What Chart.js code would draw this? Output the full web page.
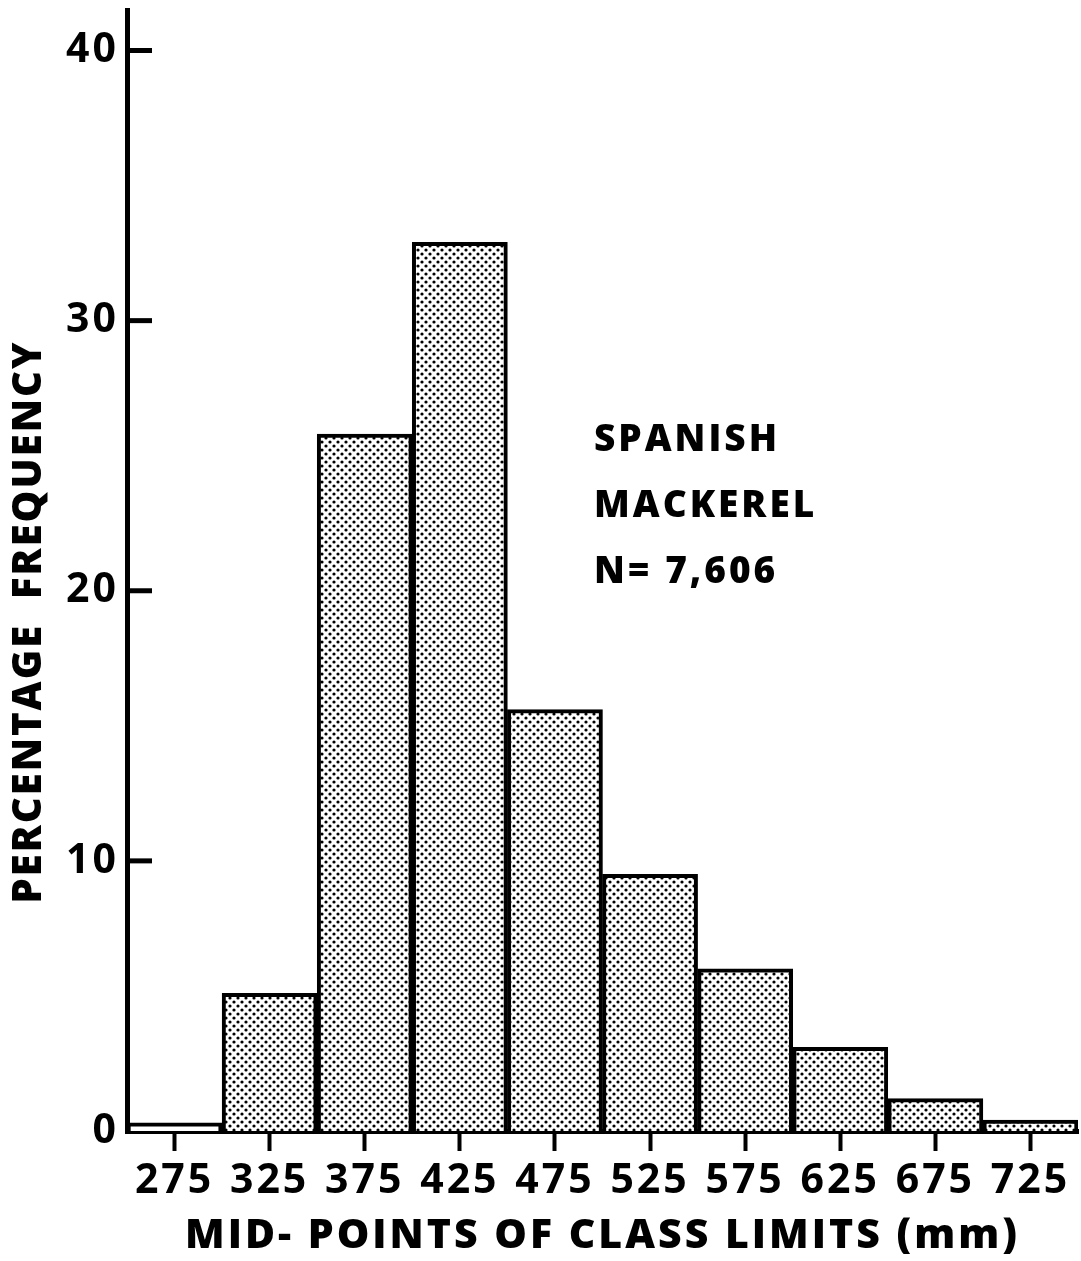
<!DOCTYPE html>
<html>
<head>
<meta charset="utf-8">
<script src="https://cdn.jsdelivr.net/npm/chart.js@4.4.1/dist/chart.umd.min.js"></script>
<style>
  html, body { margin: 0; padding: 0; background: #fff; }
  canvas { display: block; }
</style>
</head>
<body>
<canvas id="chart" width="1081" height="1261"></canvas>
<script>
// class mid-points (mm) and percentage frequency
const midPoints = ['275', '325', '375', '425', '475', '525', '575', '625', '675', '725'];
const percentFreq = [0.3, 5.1, 25.8, 32.9, 15.6, 9.5, 6.0, 3.1, 1.2, 0.4];
const yTickValues = [0, 10, 20, 30, 40];
const noteLines = ['SPANISH', 'MACKEREL', 'N= 7,606'];

const FONT = '"Open Sans", "DejaVu Sans", sans-serif';

// stipple fill like the printed halftone
function dotPattern() {
  const c = document.createElement('canvas');
  c.width = 8;
  c.height = 8;
  const g = c.getContext('2d');
  g.fillStyle = '#fff';
  g.fillRect(0, 0, 8, 8);
  g.fillStyle = '#000';
  [[2, 2], [6, 6]].forEach(([x, y]) => {
    g.beginPath();
    g.arc(x, y, 1.6, 0, Math.PI * 2);
    g.fill();
  });
  return g.createPattern(c, 'repeat');
}

const stipple = dotPattern();
const fills = percentFreq.map((v, i) => (i === 0 ? '#fff' : stipple));

// wider letter spacing for all chart text
const spacing = {
  id: 'spacing',
  beforeDraw(chart) { chart.ctx.letterSpacing = '3px'; },
  afterDraw(chart) { chart.ctx.letterSpacing = '0px'; }
};

// inward y ticks, rotated y title and the text note
const extras = {
  id: 'extras',
  afterDraw(chart) {
    const ctx = chart.ctx;
    const y = chart.scales.y;
    const area = chart.chartArea;
    ctx.save();
    ctx.strokeStyle = '#000';
    ctx.lineWidth = 5;
    yTickValues.forEach((v) => {
      if (v === 0) return;
      const py = y.getPixelForValue(v);
      ctx.beginPath();
      ctx.moveTo(area.left, py);
      ctx.lineTo(area.left + 25, py);
      ctx.stroke();
    });

    ctx.fillStyle = '#000';
    ctx.font = '800 40px ' + FONT;
    ctx.letterSpacing = '2px';
    ctx.textAlign = 'center';
    ctx.textBaseline = 'middle';
    ctx.translate(30, 622);
    ctx.rotate(-Math.PI / 2);
    ctx.fillText('PERCENTAGE  FREQUENCY', 0, 0);
    ctx.restore();

    ctx.save();
    ctx.fillStyle = '#000';
    ctx.font = '800 37px ' + FONT;
    ctx.letterSpacing = '3px';
    ctx.textAlign = 'left';
    ctx.textBaseline = 'alphabetic';
    noteLines.forEach((t, i) => {
      ctx.fillText(t, 594, 451 + i * 66);
    });
    ctx.restore();
  }
};

new Chart(document.getElementById('chart'), {
  type: 'bar',
  data: {
    labels: midPoints,
    datasets: [{
      data: percentFreq,
      backgroundColor: fills,
      borderColor: '#000',
      borderWidth: 4,
      barPercentage: 1,
      categoryPercentage: 1
    }]
  },
  options: {
    responsive: false,
    animation: false,
    devicePixelRatio: 1,
    layout: { padding: { top: 10, right: 3, left: 0, bottom: 0 } },
    plugins: {
      legend: { display: false },
      tooltip: { enabled: false }
    },
    scales: {
      x: {
        border: { display: true, color: '#000', width: 5 },
        grid: {
          display: true,
          drawOnChartArea: false,
          drawTicks: true,
          offset: false,
          tickLength: 20,
          tickWidth: 4,
          tickColor: '#000'
        },
        ticks: {
          color: '#000',
          padding: 6,
          maxRotation: 0,
          font: { family: FONT, size: 41, weight: 'bold' }
        },
        title: {
          display: true,
          text: 'MID- POINTS OF CLASS LIMITS (mm)',
          color: '#000',
          padding: { top: 0, bottom: 0 },
          font: { family: FONT, size: 41, weight: 800 }
        },
        afterFit(scale) { scale.height = 130; }
      },
      y: {
        min: 0,
        max: 41.5,
        border: { display: true, color: '#000', width: 5 },
        grid: { display: false, drawTicks: false },
        ticks: {
          stepSize: 10,
          color: '#000',
          padding: 8,
          font: { family: FONT, size: 41, weight: 'bold' }
        },
        afterBuildTicks(scale) {
          scale.ticks = yTickValues.map((v) => ({ value: v }));
        },
        afterFit(scale) {
          scale.width = 127;
          scale.paddingTop = 0;
          scale.paddingBottom = 0;
        }
      }
    }
  },
  plugins: [spacing, extras]
});
</script>
</body>
</html>
